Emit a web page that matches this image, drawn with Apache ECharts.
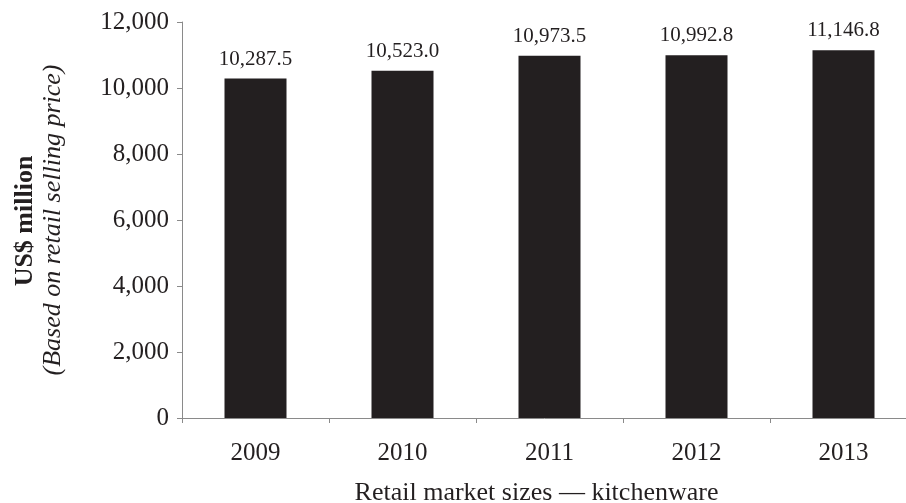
<!DOCTYPE html>
<html>
<head>
<meta charset="utf-8">
<script src="https://cdn.jsdelivr.net/npm/echarts@6/dist/echarts.min.js"></script>
<style>html,body{margin:0;padding:0;background:#fff}#c{width:906px;height:503px}</style>
</head>
<body>
<div id="c"></div>
<script>
var categories = ['2009', '2010', '2011', '2012', '2013'];
var values = [10287.5, 10523.0, 10973.5, 10992.8, 11146.8];
var yTicks = [0, 2000, 4000, 6000, 8000, 10000, 12000];
var xTitle = 'Retail market sizes \u2014 kitchenware';
var yTitle1 = 'US$ million';
var yTitle2 = '(Based on retail selling price)';

var FONT = '"Liberation Serif", "Times New Roman", serif';
var TXT = '#231f20';
var AXIS = '#8a8a8a';

function fmt(v, d) {
  return v.toLocaleString('en-US', {minimumFractionDigits: d, maximumFractionDigits: d});
}

var chart = echarts.init(document.getElementById('c'), null, {renderer: 'canvas'});
chart.setOption({
  animation: false,
  backgroundColor: '#fff',
  grid: {left: 182, width: 735, top: 22, height: 396, containLabel: false, outerBoundsMode: 'none'},
  xAxis: {
    type: 'category',
    data: categories,
    axisLine: {lineStyle: {color: AXIS, width: 1}},
    axisTick: {show: true, length: 5, lineStyle: {color: AXIS}},
    axisLabel: {color: TXT, fontFamily: FONT, fontSize: 25, margin: 23},
    name: xTitle,
    nameLocation: 'middle',
    nameGap: 62,
    nameTextStyle: {color: TXT, fontFamily: FONT, fontSize: 26, padding: [0, 26, 0, 0]}
  },
  yAxis: {
    type: 'value',
    min: yTicks[0],
    max: yTicks[yTicks.length - 1],
    interval: yTicks[1] - yTicks[0],
    splitLine: {show: false},
    axisLine: {show: true, lineStyle: {color: AXIS, width: 1}},
    axisTick: {show: true, length: 5, lineStyle: {color: AXIS}},
    axisLabel: {color: TXT, fontFamily: FONT, fontSize: 25, margin: 13,
      formatter: function (v) { return fmt(v, 0); }}
  },
  series: [{
    type: 'bar',
    data: values,
    barWidth: 62,
    itemStyle: {color: '#231f20'},
    label: {
      show: true, position: 'top', distance: 9,
      color: TXT, fontFamily: FONT, fontSize: 21,
      formatter: function (p) { return fmt(p.value, 1); }
    }
  }],
  graphic: [
    {type: 'text', x: 25, y: 221, rotation: Math.PI / 2,
      style: {text: yTitle1, font: 'bold 26px ' + FONT, fill: TXT, textAlign: 'center', textVerticalAlign: 'middle'}},
    {type: 'text', x: 53, y: 220, rotation: Math.PI / 2,
      style: {text: yTitle2, font: 'italic 26px ' + FONT, fill: TXT, textAlign: 'center', textVerticalAlign: 'middle'}}
  ]
});
</script>
</body>
</html>
